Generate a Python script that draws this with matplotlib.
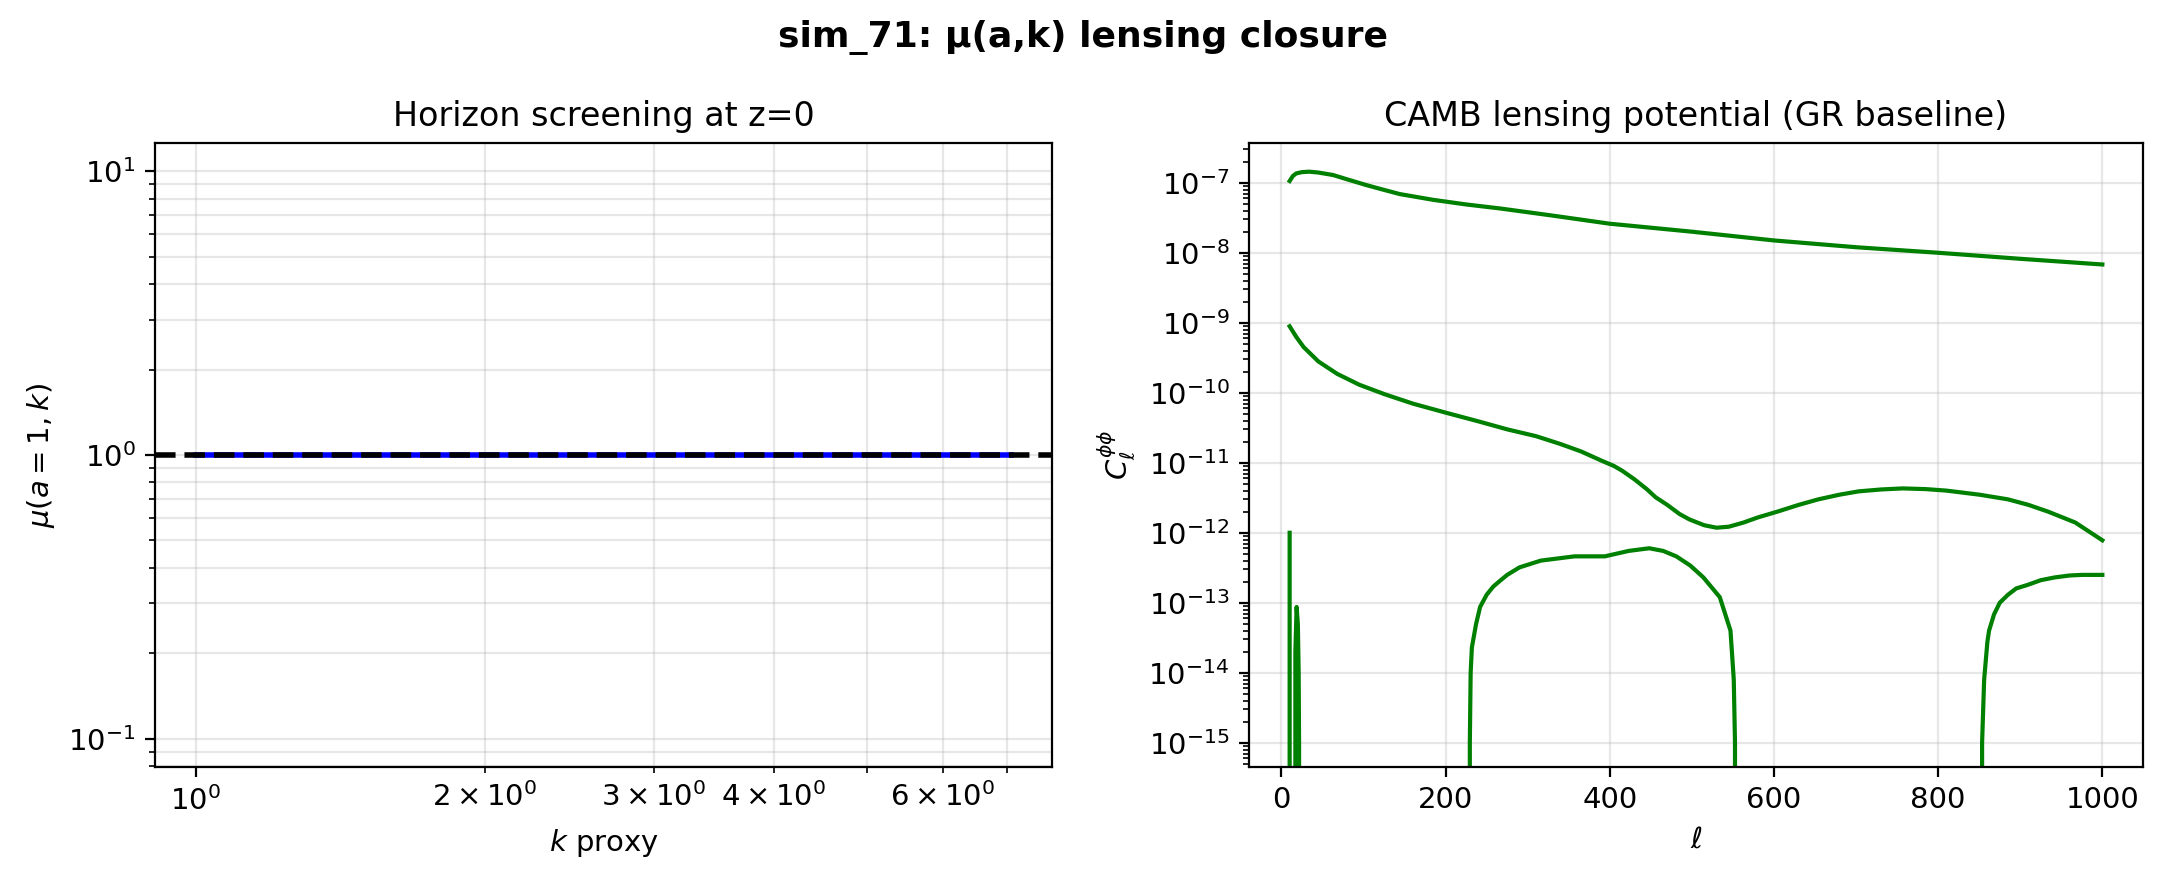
'''Recreates the sim_71 mu(a,k) lensing closure figure'''

import matplotlib
matplotlib.use("Agg")
import matplotlib.pyplot as plt

# left panel: mu(a=1,k) on the k proxy grid (flat at 1, GR limit)
k_proxy = [1.0, 1.5, 2.0, 3.0, 4.0, 5.0, 6.0, 7.07]
mu_a1 = [1.0, 1.0, 1.0, 1.0, 1.0, 1.0, 1.0, 1.0]
mu_reference = 1.0

# right panel: CAMB lensing potential curves
ell_upper = [10, 14, 18, 25, 34, 45, 63, 80, 103, 120, 144, 185, 225, 266, 330, 400, 500,
             600, 700, 800, 900, 1000]
cl_upper = [1.06e-7, 1.25e-7, 1.36e-7, 1.42e-7, 1.44e-7, 1.40e-7, 1.29e-7, 1.12e-7, 9.3e-8,
            8.2e-8, 6.9e-8, 5.7e-8, 4.9e-8, 4.3e-8, 3.4e-8, 2.6e-8, 2.0e-8, 1.5e-8, 1.2e-8,
            1.0e-8, 8.2e-9, 6.8e-9]

ell_middle = [10, 18, 27, 45, 68, 95, 126, 160, 200, 240, 275, 310, 340, 365, 390, 405, 415,
              430, 445, 456, 470, 485, 497, 515, 530, 545, 563, 580, 604, 630, 654, 680, 703,
              730, 757, 785, 810, 850, 885, 910, 934, 967, 1000]
cl_middle = [8.9e-10, 6.3e-10, 4.5e-10, 2.8e-10, 1.86e-10, 1.3e-10, 9.5e-11, 7.0e-11, 5.2e-11,
             3.9e-11, 3.0e-11, 2.4e-11, 1.85e-11, 1.45e-11, 1.07e-11, 9.0e-12, 7.7e-12, 5.8e-12,
             4.2e-12, 3.2e-12, 2.5e-12, 1.85e-12, 1.55e-12, 1.28e-12, 1.18e-12, 1.22e-12,
             1.4e-12, 1.65e-12, 2.0e-12, 2.5e-12, 3.0e-12, 3.5e-12, 3.9e-12, 4.15e-12, 4.3e-12,
             4.2e-12, 4.0e-12, 3.5e-12, 3.0e-12, 2.5e-12, 2.0e-12, 1.4e-12, 7.8e-13]

# lower curve changes sign, negative parts drop off the log axis
ell_lower = [10, 11, 16, 17, 18.5, 20, 21, 21.5, 22, 228, 229.5, 230.5, 232, 237, 242, 250, 258,
             265, 275, 290, 316, 357, 394, 423, 448, 465, 481, 498, 514, 534, 547, 551, 552.5,
             554, 852, 853.5, 856, 860, 862, 868, 875, 885, 895, 909, 925, 942, 960, 975, 1000]
cl_lower = [1.0e-12, -1e-13, -1e-14, 2e-14, 8.7e-14, 5e-14, 1e-14, 1e-15, -1e-14, -1e-14, 1e-15,
            1e-14, 2.3e-14, 4.9e-14, 8.7e-14, 1.3e-13, 1.7e-13, 2.0e-13, 2.5e-13, 3.2e-13,
            4.0e-13, 4.6e-13, 4.6e-13, 5.5e-13, 6.0e-13, 5.5e-13, 4.6e-13, 3.4e-13, 2.3e-13,
            1.2e-13, 4e-14, 8e-15, 1e-15, -1e-14, -1e-14, 1e-15, 8e-15, 2.8e-14, 4e-14, 6.8e-14,
            1.0e-13, 1.3e-13, 1.6e-13, 1.8e-13, 2.1e-13, 2.3e-13, 2.45e-13, 2.5e-13, 2.5e-13]


fig = plt.figure(figsize=(2165 / 200, 884 / 200), dpi=200)
ax1 = fig.add_axes([155 / 2165, 117 / 884, 897 / 2165, 624 / 884])
ax2 = fig.add_axes([1249 / 2165, 117 / 884, 894 / 2165, 624 / 884])

# Horizon screening panel
ax1.plot(k_proxy, mu_a1, color="blue", lw=2)
ax1.axhline(mu_reference, color="black", ls="--", lw=2)
ax1.set_xscale("log")
ax1.set_yscale("log")
ax1.set_ylim(0.0794, 12.59)
ax1.grid(True, which="both", alpha=0.3)
ax1.tick_params(which="both", labelsize=10.5)
ax1.set_xlabel("$k$ proxy", fontsize=10.5)
ax1.set_ylabel(r"$\mu(a=1,k)$", fontsize=10.5)
ax1.set_title("Horizon screening at z=0", fontsize=12)

# Lensing potential panel
ax2.plot(ell_upper, cl_upper, color="green", lw=1.5)
ax2.plot(ell_middle, cl_middle, color="green", lw=1.5)
ax2.plot(ell_lower, cl_lower, color="green", lw=1.5)
ax2.set_yscale("log")
ax2.set_ylim(4.5e-16, 3.7e-7)
ax2.grid(True, alpha=0.3)
ax2.tick_params(which="both", labelsize=10.5)
ax2.set_xlabel(r"$\ell$", fontsize=10.5)
ax2.set_ylabel(r"$C_\ell^{\phi\phi}$", fontsize=10.5)
ax2.set_title("CAMB lensing potential (GR baseline)", fontsize=12)

fig.suptitle("sim_71: μ(a,k) lensing closure", fontsize=13, fontweight="bold",
             y=1 - 47 / 884, va="baseline")

fig.savefig("out.png", dpi=200)
